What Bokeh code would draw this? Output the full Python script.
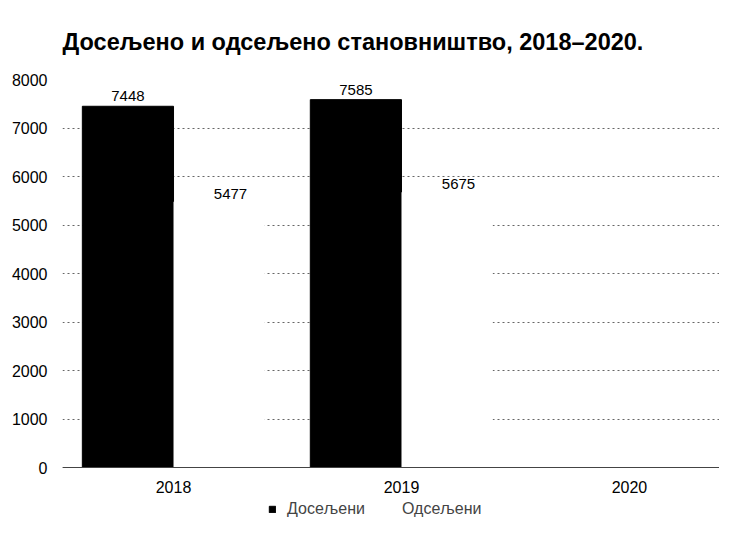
from bokeh.plotting import figure
from bokeh.models import ColumnDataSource, Legend, LegendItem, FixedTicker, Span
from bokeh.transform import dodge
from bokeh.core.properties import value
from bokeh.embed import file_html
from bokeh.resources import INLINE

years = ["2018", "2019", "2020"]
doseljeni = [7448, 7585]          # 2020: no data
odseljeni = [5477, 5675]          # 2020: no data
y_ticks = [0, 1000, 2000, 3000, 4000, 5000, 6000, 7000, 8000]

FONT = "Liberation Sans"

pos = list(range(len(doseljeni)))
src = ColumnDataSource(dict(
    x=pos,
    dos=doseljeni,
    ods=odseljeni,
    dos_t=[str(v) for v in doseljeni],
    ods_t=[str(v) for v in odseljeni],
))
year_src = ColumnDataSource(dict(x=list(range(len(years))), y=[0] * len(years), t=years))

# frame extends below zero so the legend can sit inside it
p = figure(frame_width=657, frame_height=440, x_range=(-0.487, 2.395), y_range=(-1072, 8000),
           output_backend="svg", toolbar_location=None,
           min_border_left=62, min_border_right=0, min_border_top=79, min_border_bottom=0)

p.title.text = "Досељено и одсељено становништво, 2018–2020."
p.title.text_font = FONT
p.title.text_font_size = "23.5px"
p.title.text_font_style = "bold"
p.title.align = "left"
p.title.text_color = "black"
p.title.standoff = 49

r1 = p.vbar(x=dodge("x", -0.2), top="dos", width=0.4, source=src,
            fill_color="black", line_color="black")
r2 = p.vbar(x=dodge("x", 0.2), top="ods", width=0.4, source=src,
            fill_color="white", line_color=None)

p.text(x=dodge("x", -0.2), y="dos", text="dos_t", source=src,
       text_align="center", text_baseline="alphabetic", y_offset=-10,
       text_font=value(FONT), text_font_size="15px", text_color="black")
p.text(x=dodge("x", 0.25), y="ods", text="ods_t", source=src,
       text_align="center", text_baseline="alphabetic", y_offset=-8,
       text_font=value(FONT), text_font_size="15px", text_color="black")

# category labels under the zero line
p.text(x="x", y="y", text="t", source=year_src,
       text_align="center", text_baseline="top", y_offset=13,
       text_font=value(FONT), text_font_size="16px", text_color="black")

p.add_layout(Span(location=0, dimension="width", line_color="#444444", line_width=1))

p.outline_line_color = None
p.xgrid.grid_line_color = None
p.xaxis.visible = False
p.ygrid.grid_line_color = "#666666"
p.ygrid.grid_line_dash = "2 3"
p.yaxis.ticker = FixedTicker(ticks=y_ticks)
p.yaxis.axis_line_color = None
p.yaxis.major_tick_line_color = None
p.yaxis.minor_tick_line_color = None
p.yaxis.major_tick_out = 0
p.yaxis.major_label_standoff = 15
p.yaxis.major_label_text_font = FONT
p.yaxis.major_label_text_font_size = "16px"
p.yaxis.major_label_text_color = "black"

legend = Legend(items=[LegendItem(label="Досељени", renderers=[r1]),
                       LegendItem(label="Одсељени", renderers=[r2])],
                orientation="horizontal", location=(206, 1),
                label_text_font=FONT, label_text_font_size="16px",
                label_height=18,
                glyph_width=8, glyph_height=8, label_standoff=11, spacing=18,
                padding=0, margin=0,
                border_line_color=None, background_fill_alpha=0)
p.add_layout(legend, "center")

open("out.html", "w").write(file_html(p, INLINE))
